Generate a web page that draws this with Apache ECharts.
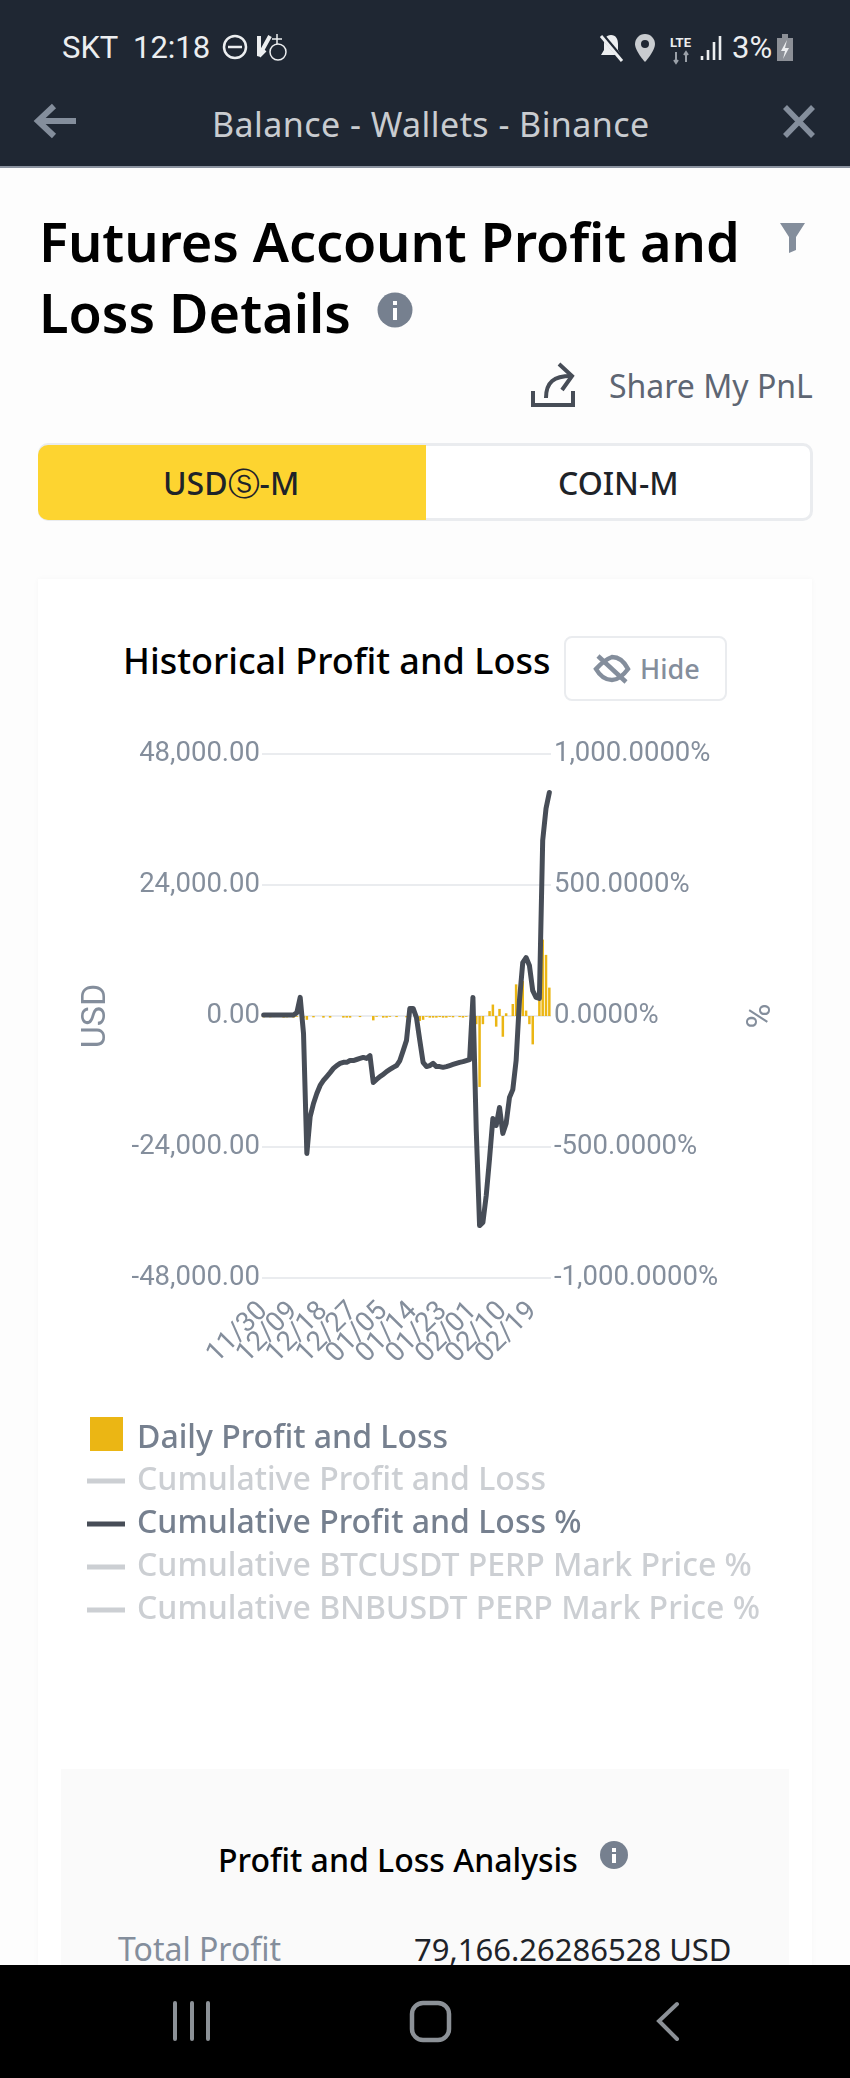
<!DOCTYPE html>
<html>
<head>
<meta charset="utf-8">
<title>Futures Account Profit and Loss Details</title>
<script src="https://cdn.jsdelivr.net/npm/echarts@6/dist/echarts.min.js"></script>
<style>
  html, body { margin: 0; padding: 0; background: #fdfdfd; }
  #page { position: relative; width: 850px; height: 2078px; overflow: hidden; font-family: "Noto Sans", sans-serif; }
  #page div.t { position: absolute; white-space: nowrap; line-height: 1; }
  .box { position: absolute; box-sizing: border-box; }
  #chart { position: absolute; left: 0; top: 0; width: 850px; height: 2078px; }
  svg.icons { position: absolute; left: 0; top: 0; pointer-events: none; }
</style>
</head>
<body>
<div id="page">
  <!-- app chrome -->
  <div class="box" style="left:0;top:0;width:850px;height:168px;background:#1f2733;border-bottom:2px solid #8b93a0"></div>
  <div class="t" style="left:62px;top:32px;font-size:31px;color:#eceef0;font-family:Roboto">SKT</div>
  <div class="t" style="left:133px;top:32px;font-size:31px;color:#eceef0;font-family:Roboto">12:18</div>
  <div class="t" style="left:732px;top:32px;font-size:31px;color:#eceef0;font-family:Roboto">3%</div>
  <div class="t" style="left:670px;top:36px;font-size:13px;font-weight:700;color:#eceef0;font-family:Roboto">LTE</div>
  <div class="t" style="left:212px;top:107px;font-size:34px;color:#c9ccd0;letter-spacing:0.45px">Balance - Wallets - Binance</div>

  <!-- page heading -->
  <div class="t" style="left:39px;top:214px;font-size:54px;font-weight:600;color:#000;letter-spacing:-0.1px">Futures Account Profit and</div>
  <div class="t" style="left:39px;top:285px;font-size:54px;font-weight:600;color:#000">Loss Details</div>
  <div class="t" style="left:609px;top:370px;font-size:32px;color:#5e6673">Share My PnL</div>

  <!-- USD-M / COIN-M switch -->
  <div class="box" style="left:38px;top:443px;width:775px;height:78px;background:#fff;border:3px solid #eaecef;border-radius:10px"></div>
  <div class="box" style="left:38px;top:445px;width:388px;height:75px;background:#fdd430;border-radius:10px 0 0 10px"></div>
  <div class="t" style="left:163px;top:467px;font-size:32px;font-weight:500;color:#1e2329">USDⓈ-M</div>
  <div class="t" style="left:558px;top:467px;font-size:32px;font-weight:500;color:#1e2329">COIN-M</div>

  <!-- card -->
  <div class="box" style="left:38px;top:579px;width:774px;height:1400px;background:#fff;box-shadow:0 0 6px rgba(0,0,0,0.03)"></div>
  <div class="t" style="left:123px;top:643px;font-size:36px;font-weight:500;color:#000">Historical Profit and Loss</div>
  <div class="box" style="left:564px;top:636px;width:163px;height:65px;border:2px solid #eaecef;border-radius:8px"></div>
  <div class="t" style="left:640px;top:655px;font-size:27px;font-weight:500;color:#848e9c">Hide</div>

  <div class="box" style="left:61px;top:1769px;width:728px;height:210px;background:#fafafa"></div>
  <div class="t" style="left:218px;top:1844px;font-size:32px;font-weight:500;color:#000">Profit and Loss Analysis</div>
  <div class="t" style="left:118px;top:1933px;font-size:32px;color:#848e9c">Total Profit</div>
  <div class="t" style="left:414px;top:1934px;font-size:31px;color:#1e2329">79,166.26286528 USD</div>

  <div id="chart"></div>

  <div class="box" style="left:0;top:1965px;width:850px;height:113px;background:#000"></div>

  <svg class="icons" width="850" height="2078">
    <!-- status bar -->
    <g fill="none" stroke="#eceef0" stroke-width="2.5">
      <circle cx="235" cy="47" r="11"/><path d="M228 47h14"/>
      <path d="M259 36v20l11-20M259 56l6-6" stroke-width="4"/>
      <circle cx="278" cy="52" r="8" stroke-width="1.5"/><path d="M277 34v10M272 39h10" stroke-width="1.5"/>
    </g>
    <path d="M611 35c-5 0-7 4-7 9v6l-3 5h20l-3-5v-6c0-5-2-9-7-9z" fill="#eceef0"/>
    <path d="M601 34l21 25" stroke="#1f2733" stroke-width="5"/>
    <path d="M601 36l21 25" stroke="#eceef0" stroke-width="3"/>
    <path d="M645 34c-6 0-10 5-10 10 0 7 10 18 10 18s10-11 10-18c0-5-4-10-10-10z" fill="#c9ccd0"/>
    <circle cx="645" cy="44" r="4" fill="#1f2733"/>
    <path d="M676 52v10M674 60l2 3 2-3M686 62V52M684 55l2-3 2 3" stroke="#9aa0a8" stroke-width="2" fill="none"/>
    <path d="M702 56v4M708 50v10M714 42v18M720 36v24" stroke="#eceef0" stroke-width="2.6"/>
    <rect x="777" y="38" width="16" height="23" fill="#8c9097"/><rect x="782" y="34" width="6" height="4" fill="#8c9097"/>
    <path d="M787 40l-6 11h4l-2 8 6-11h-4z" fill="#eceef0"/>
    <!-- nav arrow and close -->
    <path d="M76 121H40M54 106L38 121l16 15" fill="none" stroke="#848e9c" stroke-width="6"/>
    <path d="M785 107l28 29M813 107l-28 29" fill="none" stroke="#848e9c" stroke-width="5.5"/>
    <!-- filter -->
    <path d="M780 223h25l-9 14v13l-7 3v-16z" fill="#848e9c"/>
    <!-- info marks -->
    <circle cx="395" cy="310" r="17.5" fill="#76808f"/>
    <rect x="393" y="308" width="4" height="12" fill="#fff"/><rect x="393" y="301" width="4" height="4" fill="#fff"/>
    <circle cx="614" cy="1855" r="14" fill="#76808f"/>
    <rect x="612" y="1854" width="4" height="9" fill="#fff"/><rect x="612" y="1848" width="4" height="4" fill="#fff"/>
    <!-- share -->
    <path d="M533 391v14h40v-14M546 398c0-16 8-22 25-22" fill="none" stroke="#474d57" stroke-width="4"/>
    <path d="M559 364l13 12-10 14" fill="none" stroke="#474d57" stroke-width="4"/>
    <!-- hide eye -->
    <g fill="none" stroke="#848e9c" stroke-width="4.5">
      <path d="M596 669c8-9 16-12 16-12 6 0 12 4 16 12-6 8-12 11-16 11-6 0-12-4-16-11z"/>
      <path d="M598 656l28 26"/>
    </g>
    <!-- android keys -->
    <path d="M175 2003v36M192 2003v36M208 2003v36" stroke="#8c9197" stroke-width="4" stroke-linecap="round"/>
    <rect x="412" y="2003" width="37" height="37" rx="11" fill="none" stroke="#8c9197" stroke-width="4.5"/>
    <path d="M677 2004l-18 17 18 18" fill="none" stroke="#8c9197" stroke-width="4" stroke-linecap="round"/>
  </svg>
</div>

<script>
// Day 11/30 to 02/24
var days = [
  '11/30', '12/01', '12/02', '12/03', '12/04', '12/05', '12/06', '12/07', '12/08', '12/09',
  '12/10', '12/11', '12/12', '12/13', '12/14', '12/15', '12/16', '12/17', '12/18', '12/19',
  '12/20', '12/21', '12/22', '12/23', '12/24', '12/25', '12/26', '12/27', '12/28', '12/29',
  '12/30', '12/31', '01/01', '01/02', '01/03', '01/04', '01/05', '01/06', '01/07', '01/08',
  '01/09', '01/10', '01/11', '01/12', '01/13', '01/14', '01/15', '01/16', '01/17', '01/18',
  '01/19', '01/20', '01/21', '01/22', '01/23', '01/24', '01/25', '01/26', '01/27', '01/28',
  '01/29', '01/30', '01/31', '02/01', '02/02', '02/03', '02/04', '02/05', '02/06', '02/07',
  '02/08', '02/09', '02/10', '02/11', '02/12', '02/13', '02/14', '02/15', '02/16', '02/17',
  '02/18', '02/19', '02/20', '02/21', '02/22', '02/23', '02/24'
]
var dailyPnl = [
  -250, 0, -250, -200, 0, 0, -300, -250, 0, -300,
  -150, 0, -400, -700, 0, -250, 0, 0, -300, 0,
  -300, 0, 0, 0, -300, -300, -300, 0, 0, -200,
  0, 0, 0, -800, -150, 0, -300, -300, -150, 0,
  -200, 0, 0, -250, -250, 0, -200, -900, -700, -150,
  -300, -300, -300, -200, -300, -300, -150, -250, 0, -200,
  -300, -150, 0, 0, -1500, -13000, -1500, 0, 900, 2100,
  -1950, 1300, -3800, 500, 0, 2200, 5800, 300, 6400, 1000,
  -1500, -5200, 0, 7900, 14000, 11200, 5200
]
var cumulativePct = [
  4, 4, 4, 4, 4, 4, 4, 4, 4, 4,
  13, 71, -67, -525, -384, -334, -296, -265, -246, -231,
  -216, -200, -189, -181, -177, -177, -170, -170, -166, -162,
  -158, -162, -151, -254, -242, -231, -223, -212, -204, -196,
  -189, -170, -132, -93, 29, 29, -6, -93, -177, -193,
  -189, -181, -193, -193, -196, -193, -189, -185, -181, -177,
  -174, -170, -166, 71, -437, -800, -788, -685, -544, -391,
  -418, -349, -448, -410, -311, -281, -170, 59, 204, 223,
  193, 97, 71, 67, 670, 792, 853
]
var seriesNames = [
  'Daily Profit and Loss',
  'Cumulative Profit and Loss',
  'Cumulative Profit and Loss %',
  'Cumulative BTCUSDT PERP Mark Price %',
  'Cumulative BNBUSDT PERP Mark Price %'
]

var labelColor = '#848e9c'
var fontFamily = 'Roboto'

function money(v) {
  var s = Math.abs(v).toFixed(2).replace(/\B(?=(\d{3})+(?!\d))/g, ',')
  return (v < 0 ? '-' : '') + s
}
function percent(v) {
  var s = Math.abs(v).toFixed(4).replace(/\B(?=(\d{3})+(?=\.))/g, ',')
  return (v < 0 ? '-' : '') + s + '%'
}

var myChart = echarts.init(document.getElementById('chart'), null, { renderer: 'canvas' })

// hidden series stay in the legend, as in the app
var selected = {}
selected[seriesNames[1]] = false
selected[seriesNames[3]] = false
selected[seriesNames[4]] = false

var option = {
  animation: false,
  backgroundColor: 'transparent',
  grid: { left: 262, top: 754, width: 289, height: 524, containLabel: false },
  legend: [
    {
      orient: 'vertical',
      left: 85,
      top: 1404,
      itemWidth: 33,
      itemHeight: 34,
      icon: 'rect',
      data: [seriesNames[0]],
      // the label sits a little lower than the square
      formatter: '{gap| }\n{name|{name}}',
      textStyle: {
        color: '#76808f',
        padding: [0, 0, 0, 9],
        rich: {
          gap: { lineHeight: 10, fontSize: 8 },
          name: { color: '#76808f', fontSize: 32, fontFamily: 'Noto Sans', fontWeight: 500, lineHeight: 42 }
        }
      }
    },
    {
      orient: 'vertical',
      left: 82,
      top: 1455,
      itemWidth: 38,
      itemHeight: 5,
      itemGap: 1,
      icon: 'rect',
      selected: selected,
      inactiveColor: '#cccfd3',
      data: seriesNames.slice(1),
      textStyle: { color: '#76808f', fontSize: 32, fontFamily: 'Noto Sans', fontWeight: 500, padding: [0, 0, 0, 7], lineHeight: 42 }
    }
  ],
  xAxis: {
    type: 'category',
    data: days,
    boundaryGap: true,
    axisLine: { show: false, onZero: false },
    axisTick: { show: false },
    splitLine: { show: false },
    axisLabel: {
      interval: 0,
      rotate: 45,
      margin: 29,
      color: labelColor,
      fontSize: 27.5,
      fontFamily: fontFamily,
      hideOverlap: false,
      // every ninth day gets a label
      formatter: function (value, index) {
        return index % 9 === 0 ? value : ''
      }
    }
  },
  yAxis: [
    {
      type: 'value',
      min: -48000,
      max: 48000,
      interval: 24000,
      name: 'USD',
      nameLocation: 'middle',
      nameGap: 149,
      nameTextStyle: { color: labelColor, fontSize: 34, fontFamily: fontFamily },
      axisLine: { show: false },
      axisTick: { show: false },
      splitLine: { lineStyle: { color: '#eaecef', width: 2 } },
      axisLabel: { margin: 2, color: labelColor, fontSize: 27.5, fontFamily: fontFamily, formatter: money }
    },
    {
      type: 'value',
      min: -1000,
      max: 1000,
      interval: 500,
      name: '%',
      nameLocation: 'middle',
      nameGap: 193,
      nameTextStyle: { color: labelColor, fontSize: 34, fontFamily: fontFamily },
      axisLine: { show: false },
      axisTick: { show: false },
      splitLine: { show: false },
      axisLabel: { margin: 3, color: labelColor, fontSize: 27.5, fontFamily: fontFamily, formatter: percent }
    }
  ],
  series: [
    {
      name: seriesNames[0],
      type: 'bar',
      yAxisIndex: 0,
      data: dailyPnl,
      barWidth: 2.5,
      itemStyle: { color: '#ebb614' }
    },
    { name: seriesNames[1], type: 'line', yAxisIndex: 0, data: [], itemStyle: { color: '#474d57' } },
    {
      name: seriesNames[2],
      type: 'line',
      yAxisIndex: 1,
      data: cumulativePct,
      showSymbol: false,
      lineStyle: { color: '#474d57', width: 5, cap: 'round', join: 'round' },
      itemStyle: { color: '#474d57' }
    },
    { name: seriesNames[3], type: 'line', yAxisIndex: 1, data: [], itemStyle: { color: '#474d57' } },
    { name: seriesNames[4], type: 'line', yAxisIndex: 1, data: [], itemStyle: { color: '#474d57' } }
  ]
}

myChart.setOption(option)

window.addEventListener('resize', function () {
  myChart.resize()
})
</script>
</body>
</html>
